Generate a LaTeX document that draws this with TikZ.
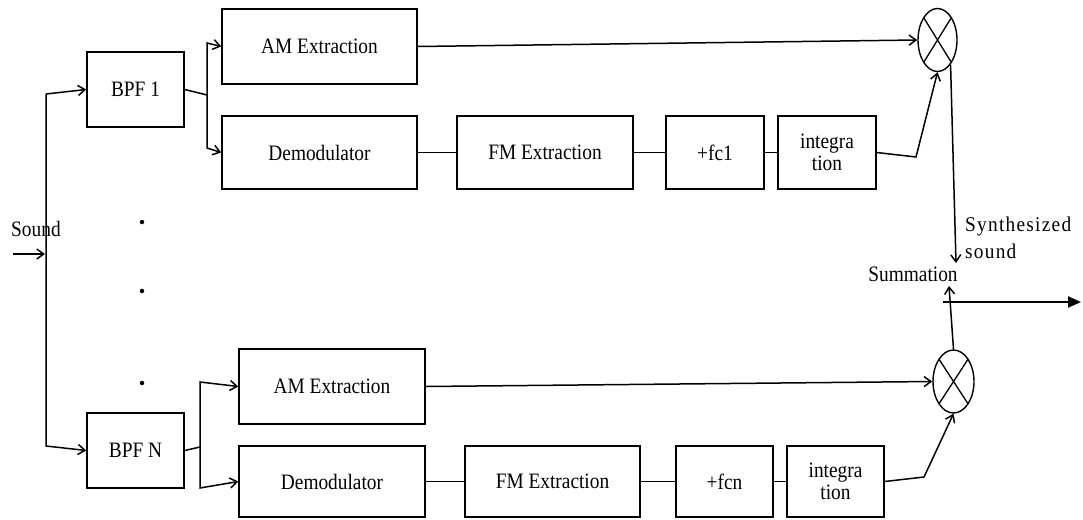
\documentclass[tikz,border=0pt]{standalone}
\usepackage{fontspec}
\setmainfont[FakeStretch=0.88]{Liberation Serif}
\usetikzlibrary{arrows.meta,shapes.geometric}
\newfontfamily\spacedfont[LetterSpace=6,FakeStretch=0.92]{Liberation Serif}
\begin{document}
\begin{tikzpicture}[x=1pt,y=-1pt,
  every node/.style={font=\fontsize{22}{22}\selectfont},
  blk/.style={draw, line width=1.5pt, minimum height=75pt, inner sep=0pt, align=center},
  mult/.style={draw, line width=1.4pt, ellipse, inner sep=0pt, minimum width=40pt, minimum height=63pt,
     path picture={\draw[line width=1.3pt] (path picture bounding box.north west) -- (path picture bounding box.south east)
        (path picture bounding box.north east) -- (path picture bounding box.south west);}},
  con/.style={line width=1.5pt},
  arr/.style={line width=1.5pt, -{Straight Barb[length=7pt,width=10pt]}},
  dotmark/.style={circle, fill, inner sep=0pt, minimum size=4.5pt}
]
\useasboundingbox (0,0) rectangle (1083,519);

% top branch
\node[blk, minimum width=97pt] (bpf1) at (135.5,89.5) {BPF 1};
\node[blk, minimum width=195pt] (am1) at (319.5,46.5) {AM Extraction};
\node[blk, minimum width=195pt, minimum height=73pt] (dm1) at (319.5,152.5) {Demodulator};
\node[blk, minimum width=176pt, minimum height=73pt] (fm1) at (545,152.5) {FM Extraction};
\node[blk, minimum width=98pt, minimum height=73pt] (fc1) at (715,152.5) {+fc1};
\node[blk, minimum width=98pt, minimum height=73pt] (in1) at (827,152.5) {integra\\tion};
\node[mult, minimum width=39pt] (m1) at (937.5,40) {};

% bottom branch
\node[blk, minimum width=97pt] (bpfN) at (135.5,450.5) {BPF N};
\node[blk, minimum width=186pt] (amN) at (332,386.5) {AM Extraction};
\node[blk, minimum width=186pt, minimum height=71pt] (dmN) at (332,481.5) {Demodulator};
\node[blk, minimum width=175pt, minimum height=71pt] (fmN) at (552.5,481.5) {FM Extraction};
\node[blk, minimum width=97pt, minimum height=71pt] (fcN) at (724.5,481.5) {+fcn};
\node[blk, minimum width=97pt, minimum height=71pt] (inN) at (835.5,481.5) {integra\\tion};
\node[mult, minimum width=41pt] (m2) at (953.5,381.5) {};

% labels
\node[anchor=west, inner sep=0pt] (snd) at (11,229) {Sound};
\node[inner sep=0pt] (sum) at (913,274) {Summation};
\node[anchor=west, inner sep=0pt, align=left, font=\fontsize{21}{27}\spacedfont] (syn) at (965,238) {Synthesized\\sound};

% dots
\node[dotmark] (d1) at (142,222) {};
\node[dotmark] (d2) at (142,291) {};
\node[dotmark] (d3) at (142,383) {};

% coordinates
\coordinate (s0) at (13,254);
\coordinate (s1) at (45,254);
\coordinate (t1) at (46,94);
\coordinate (t2) at (46,446);
\coordinate (b1) at (207,95);
\coordinate (b1t) at (207,43);
\coordinate (b1b) at (207,148);
\coordinate (b2) at (200,447);
\coordinate (b2t) at (200,382);
\coordinate (b2b) at (200,488);
\coordinate (k1) at (916,157);
\coordinate (kN) at (924,477);
\coordinate (o1) at (956,263);
\coordinate (o2) at (949,286);
\coordinate (os) at (943,302);
\coordinate (oe) at (1081,302);

% input
\draw[arr] (s0) -- (s1);
\draw[arr] (t1) -- (bpf1.west);
\draw[arr] (t1) -- (t2) -- (bpfN.west);

% top connections
\draw[con] (bpf1.east) -- (b1);
\draw[arr] (b1) -- (b1t) -- (am1.west);
\draw[arr] (b1) -- (b1b) -- (dm1.west);
\draw[arr] (am1.east) -- (m1.west);
\draw[con] (dm1.east) -- (fm1.west);
\draw[con] (fm1.east) -- (fc1.west);
\draw[con] (fc1.east) -- (in1.west);
\draw[arr] (in1.east) -- (k1) -- (m1.south);

% bottom connections
\draw[con] (bpfN.east) -- (b2);
\draw[arr] (b2) -- (b2t) -- (amN.west);
\draw[arr] (b2) -- (b2b) -- (dmN.west);
\draw[arr] (amN.east) -- (m2.west);
\draw[con] (dmN.east) -- (fmN.west);
\draw[con] (fmN.east) -- (fcN.west);
\draw[con] (fcN.east) -- (inN.west);
\draw[arr] (inN.east) -- (kN) -- (m2.south);

% summation
\draw[arr] (m1.-62) -- (o1);
\draw[arr] (m2.north) -- (o2);
\draw[line width=2.2pt, -{Triangle[length=13pt,width=11pt]}] (os) -- (oe);
\end{tikzpicture}
\end{document}
